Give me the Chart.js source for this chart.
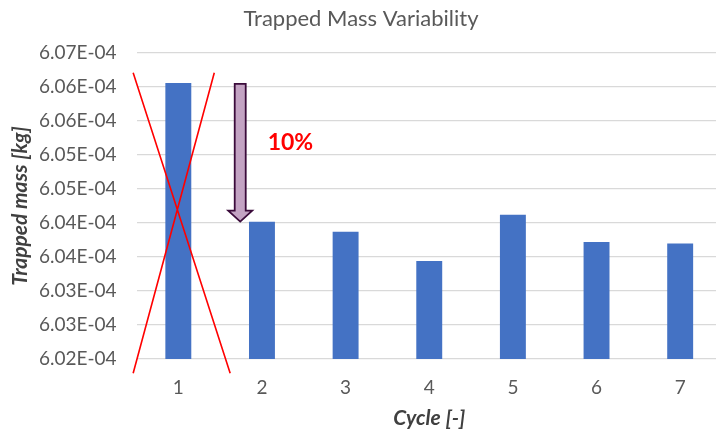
<!DOCTYPE html>
<html>
<head>
<meta charset="utf-8">
<script src="https://cdn.jsdelivr.net/npm/chart.js@4.4.1/dist/chart.umd.min.js"></script>
<style>
  html, body { margin: 0; padding: 0; background: #fff; overflow: hidden; }
  #wrap { width: 716px; height: 432px; overflow: hidden; }
</style>
</head>
<body>
<div id="wrap"><canvas id="myChart" width="722" height="432"></canvas></div>
<script>
// data
const cycles = ["1", "2", "3", "4", "5", "6", "7"];
const trappedMass = [6.0606e-4, 6.0402e-4, 6.0387e-4, 6.0344e-4, 6.0412e-4, 6.0372e-4, 6.0370e-4];
const yMin = 6.020e-4;
const yMax = 6.065e-4;
const yStep = 5e-7;

// format like Excel "0.00E+00"
const sci = (v) => {
  const m = Math.round(v * 1e6 + 1e-4) / 100;
  return m.toFixed(2) + "E-04";
};

// red cross over cycle 1, arrow and "10%" label
const notes = {
  id: "notes",
  afterDatasetsDraw(chart) {
    const { ctx, scales } = chart;
    const x = scales.x, y = scales.y;
    const px = (i) => x.getPixelForValue(0) + i * (x.getPixelForValue(1) - x.getPixelForValue(0));
    ctx.save();

    // cross
    ctx.strokeStyle = "#ff0000";
    ctx.lineWidth = 1.6;
    ctx.beginPath();
    ctx.moveTo(px(-0.54), y.getPixelForValue(6.0621e-4));
    ctx.lineTo(px(0.62), y.getPixelForValue(6.0179e-4));
    ctx.moveTo(px(0.43), y.getPixelForValue(6.0621e-4));
    ctx.lineTo(px(-0.54), y.getPixelForValue(6.0179e-4));
    ctx.stroke();

    // arrow from cycle 1 level down to cycle 2 level
    const ax = px(0.74);
    const top = y.getPixelForValue(trappedMass[0]) + 1;
    const tip = y.getPixelForValue(trappedMass[1]);
    const sw = 5.5, hw = 12, hh = 11;
    ctx.beginPath();
    ctx.moveTo(ax - sw, top);
    ctx.lineTo(ax + sw, top);
    ctx.lineTo(ax + sw, tip - hh);
    ctx.lineTo(ax + hw, tip - hh);
    ctx.lineTo(ax, tip);
    ctx.lineTo(ax - hw, tip - hh);
    ctx.lineTo(ax - sw, tip - hh);
    ctx.closePath();
    ctx.fillStyle = "#c3a3c3";
    ctx.fill();
    ctx.strokeStyle = "#3b0b3b";
    ctx.lineWidth = 1.8;
    ctx.stroke();

    // label
    ctx.fillStyle = "#ff0000";
    ctx.font = "bold 23px Lato, sans-serif";
    ctx.textAlign = "center";
    ctx.textBaseline = "middle";
    ctx.fillText("10%", px(1.34), y.getPixelForValue(6.0518e-4));
    ctx.restore();
  },
};

const ctx = document.getElementById("myChart");

const chart = new Chart(ctx, {
  type: "bar",
  data: {
    labels: cycles,
    datasets: [
      {
        label: "Trapped mass",
        data: trappedMass,
        backgroundColor: "#4472c4",
        borderWidth: 0,
        categoryPercentage: 1,
        barPercentage: 0.31,
      },
    ],
  },
  options: {
    responsive: false,
    animation: false,
    layout: { padding: 0 },
    plugins: {
      legend: { display: false },
      tooltip: { enabled: false },
      title: {
        display: true,
        text: "Trapped Mass Variability",
        color: "#595959",
        font: { family: "Lato", size: 22, weight: "normal" },
        padding: { top: 6, bottom: 20.6 },
      },
    },
    scales: {
      x: {
        grid: { display: false, drawTicks: false },
        border: { display: false },
        ticks: { color: "#595959", font: { family: "Lato", size: 19 }, padding: 17.6 },
        title: {
          display: true,
          text: "Cycle [-]",
          color: "#404040",
          font: { family: "Lato", size: 21, weight: "bold", style: "italic" },
          padding: { top: 0, bottom: 1 },
        },
        afterFit: (scale) => { scale.height = 73; },
      },
      y: {
        min: yMin,
        max: yMax,
        grid: { color: "#d9d9d9", lineWidth: 1.3, drawTicks: false },
        border: { display: false },
        ticks: {
          stepSize: yStep,
          color: "#595959",
          font: { family: "Lato", size: 19 },
          padding: 20,
          callback: (v) => sci(v),
        },
        title: {
          display: true,
          text: "Trapped mass [kg]",
          color: "#404040",
          font: { family: "Lato", size: 21, weight: "bold", style: "italic" },
          padding: { top: 7.4, bottom: 0 },
        },
        afterFit: (scale) => { scale.width = 136.5; },
      },
    },
  },
  plugins: [notes],
});
</script>
</body>
</html>
